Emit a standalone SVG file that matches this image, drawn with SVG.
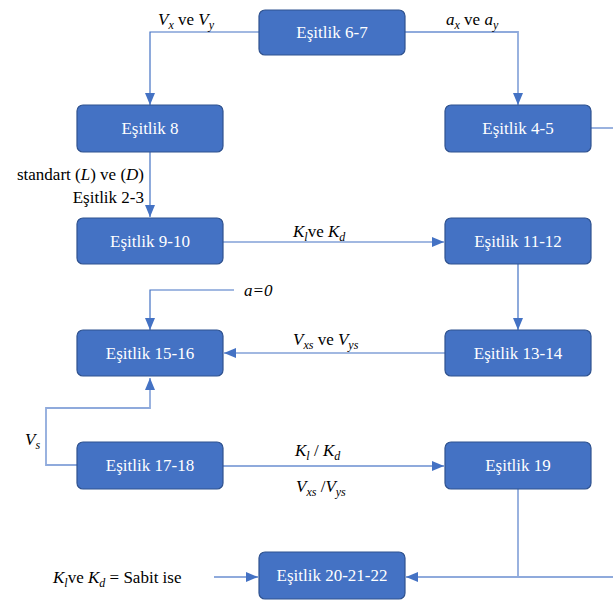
<svg xmlns="http://www.w3.org/2000/svg" width="613" height="600" viewBox="0 0 613 600">
<defs>
<style>
.box{fill:#4472c4;stroke:#2f528f;stroke-width:1.2}
.nt{fill:#fff;font-size:17px;text-anchor:middle}
.lb{fill:#000;font-size:17px}
.it{font-style:italic}
.dk{fill:none;stroke:#4472c4;stroke-width:1.2}
.lt{fill:none;stroke:#8faadc;stroke-width:1.8}
</style>
<marker id="ah" viewBox="0 0 12 10" refX="12" refY="5" markerWidth="12" markerHeight="10" markerUnits="userSpaceOnUse" orient="auto">
<path d="M0,0 L12,5 L0,10 Z" fill="#4472c4"/>
</marker>
</defs>
<rect width="613" height="600" fill="#fff"/>
<g id="connectors">
<path class="dk" d="M259,32 H150 V105" marker-end="url(#ah)"/>
<path class="lt" d="M405,32 H518 V105" marker-end="url(#ah)"/>
<path class="lt" d="M591,128 H613"/>
<path class="dk" d="M150,152 V217" marker-end="url(#ah)"/>
<path class="dk" d="M223,242 H444" marker-end="url(#ah)"/>
<path class="dk" d="M518,264 V330" marker-end="url(#ah)"/>
<path class="dk" d="M234,290 H150 V330" marker-end="url(#ah)"/>
<path class="dk" d="M445,353 H224" marker-end="url(#ah)"/>
<path class="lt" d="M77,465 H46 V408 H150 V378" marker-end="url(#ah)"/>
<path class="lt" d="M223,466 H444" marker-end="url(#ah)"/>
<path class="lt" d="M518,489 V577"/>
<path class="lt" d="M613,577 H406" marker-end="url(#ah)"/>
<path class="lt" d="M214,577 H258" marker-end="url(#ah)"/>
</g>
<g font-family="Liberation Serif, DejaVu Serif, serif">
<g id="n67"><rect class="box" x="259" y="10" width="146" height="45" rx="6"/><text class="nt" x="332" y="38">Eşitlik 6-7</text></g>
<g id="n8"><rect class="box" x="77" y="105" width="146" height="47" rx="6"/><text class="nt" x="150" y="134">Eşitlik 8</text></g>
<g id="n45"><rect class="box" x="445" y="105" width="146" height="47" rx="6"/><text class="nt" x="518" y="134">Eşitlik 4-5</text></g>
<g id="n910"><rect class="box" x="77" y="218" width="146" height="46" rx="6"/><text class="nt" x="150" y="247">Eşitlik 9-10</text></g>
<g id="n1112"><rect class="box" x="445" y="218" width="146" height="46" rx="6"/><text class="nt" x="518" y="247">Eşitlik 11-12</text></g>
<g id="n1516"><rect class="box" x="77" y="330" width="146" height="46" rx="6"/><text class="nt" x="150" y="359">Eşitlik 15-16</text></g>
<g id="n1314"><rect class="box" x="445" y="330" width="146" height="46" rx="6"/><text class="nt" x="518" y="359">Eşitlik 13-14</text></g>
<g id="n1718"><rect class="box" x="77" y="442" width="146" height="47" rx="6"/><text class="nt" x="150" y="471">Eşitlik 17-18</text></g>
<g id="n19"><rect class="box" x="445" y="442" width="146" height="47" rx="6"/><text class="nt" x="518" y="471">Eşitlik 19</text></g>
<g id="n202122"><rect class="box" x="259" y="552" width="146" height="47" rx="6"/><text class="nt" x="332" y="581">Eşitlik 20-21-22</text></g>
<g id="labels">
<text class="lb" x="158" y="25"><tspan class="it">V</tspan><tspan class="it" font-size="12" dy="4">x</tspan><tspan dy="-4"> ve </tspan><tspan class="it">V</tspan><tspan class="it" font-size="12" dy="4">y</tspan></text>
<text class="lb" x="446" y="25"><tspan class="it">a</tspan><tspan class="it" font-size="12" dy="4">x</tspan><tspan dy="-4"> ve </tspan><tspan class="it">a</tspan><tspan class="it" font-size="12" dy="4">y</tspan></text>
<text class="lb" x="144" y="180" text-anchor="end" font-size="16">standart (<tspan class="it">L</tspan>) ve (<tspan class="it">D</tspan>)</text>
<text class="lb" x="144" y="203" text-anchor="end" font-size="16">Eşitlik 2-3</text>
<text class="lb" x="293" y="237"><tspan class="it">K</tspan><tspan class="it" font-size="12" dy="4">l</tspan><tspan dy="-4">ve </tspan><tspan class="it">K</tspan><tspan class="it" font-size="12" dy="4">d</tspan></text>
<text class="lb it" x="244" y="296">a=0</text>
<text class="lb" x="293" y="345"><tspan class="it">V</tspan><tspan class="it" font-size="12" dy="4">xs</tspan><tspan dy="-4"> ve </tspan><tspan class="it">V</tspan><tspan class="it" font-size="12" dy="4">ys</tspan></text>
<text class="lb" x="25" y="445"><tspan class="it">V</tspan><tspan class="it" font-size="12" dy="4">s</tspan></text>
<text class="lb" x="295" y="456"><tspan class="it">K</tspan><tspan class="it" font-size="12" dy="4">l</tspan><tspan dy="-4"> / </tspan><tspan class="it">K</tspan><tspan class="it" font-size="12" dy="4">d</tspan></text>
<text class="lb" x="296" y="492"><tspan class="it">V</tspan><tspan class="it" font-size="12" dy="4">xs</tspan><tspan dy="-4"> /</tspan><tspan class="it">V</tspan><tspan class="it" font-size="12" dy="4">ys</tspan></text>
<text class="lb" x="53" y="583"><tspan class="it">K</tspan><tspan class="it" font-size="12" dy="4">l</tspan><tspan dy="-4">ve </tspan><tspan class="it">K</tspan><tspan class="it" font-size="12" dy="4">d</tspan><tspan dy="-4"> =  Sabit ise</tspan></text>
</g>
</g>
</svg>
